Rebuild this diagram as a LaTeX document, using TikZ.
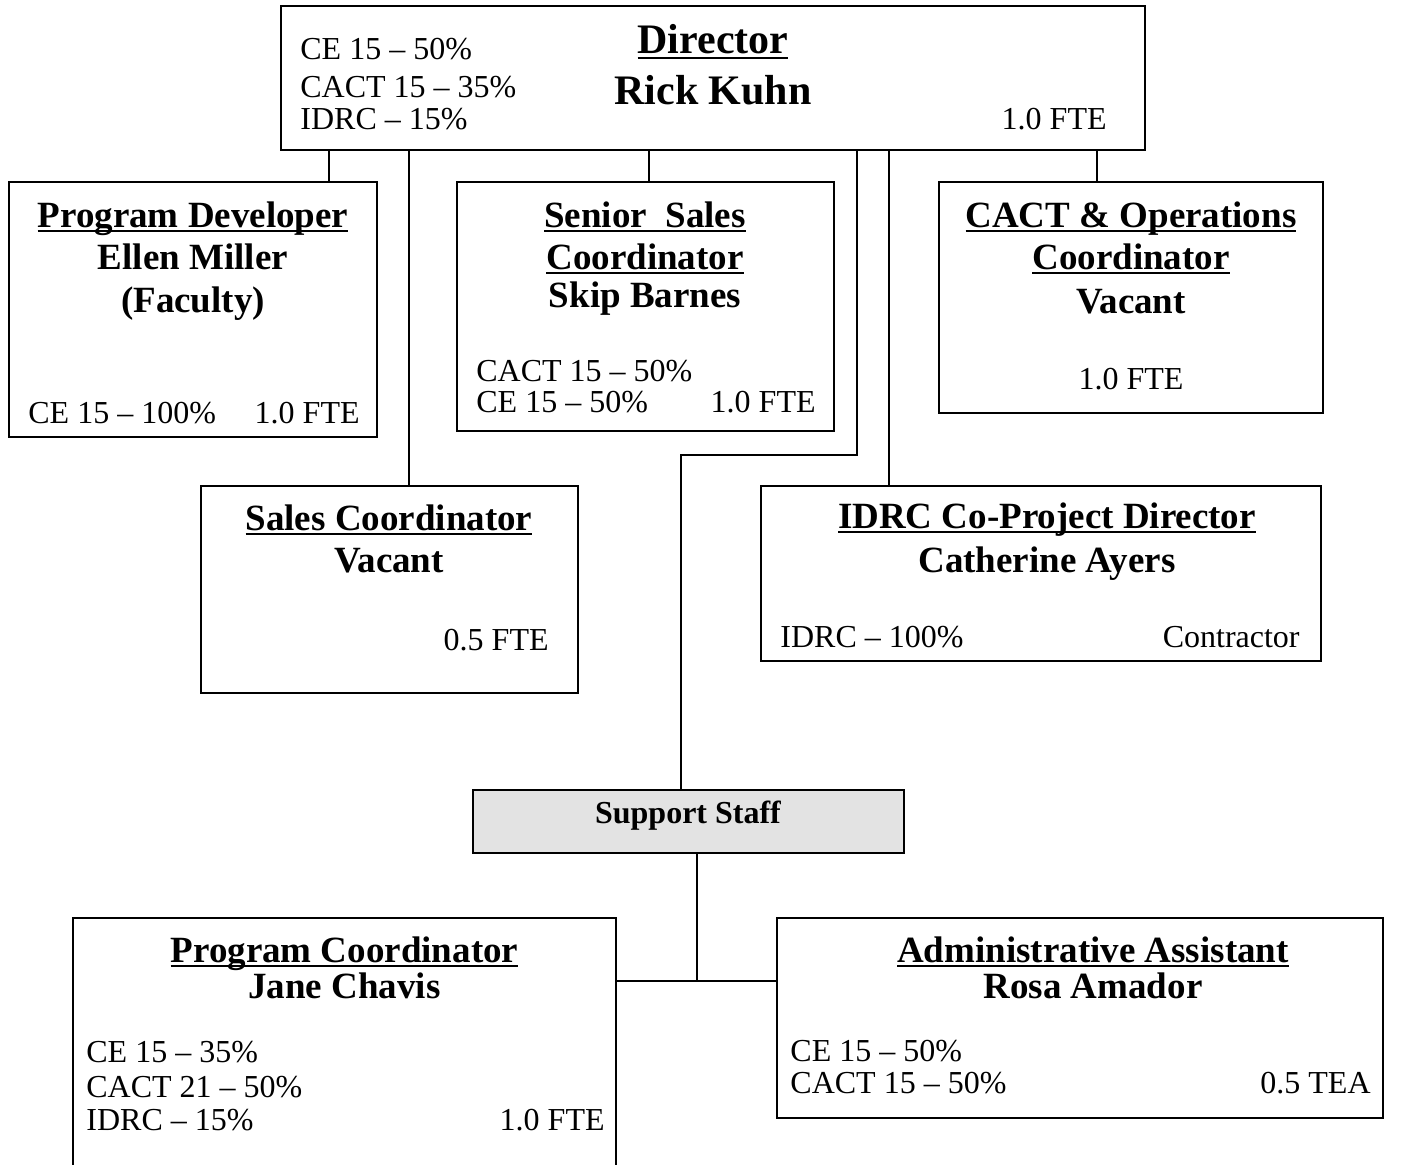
\documentclass[tikz,border=0pt]{standalone}
\usepackage{fontspec}
\setmainfont{Liberation Serif}
\usetikzlibrary{fit}
\newsavebox\ulbox
\newcommand\myul[2]{\sbox\ulbox{#2}\rlap{\rule[#1]{\wd\ulbox}{1pt}}\usebox\ulbox}
\definecolor{supfill}{RGB}{227,227,227}
\tikzset{
  box/.style={draw, line width=1pt, inner sep=0pt},
  conn/.style={draw, line width=1pt},
  txt/.style={inner sep=0pt, font=\fontsize{16}{19}\selectfont},
  ttl/.style={inner sep=0pt, anchor=base, font=\fontsize{18.5}{22}\selectfont\bfseries},
  dirttl/.style={inner sep=0pt, anchor=base, font=\fontsize{21}{25}\selectfont\bfseries},
}
\begin{document}
\begin{tikzpicture}[x=0.5pt,y=-0.5pt]
\useasboundingbox (0,0) rectangle (1415,1164);
\clip (0,0) rectangle (1415,1164);
% boxes
\node[box, fit={(281,6) (1145,150)}] (dir) {};
\node[box, fit={(9,182) (377,437)}] (pd) {};
\node[box, fit={(457,182) (834,431)}] (ssc) {};
\node[box, fit={(939,182) (1323,413)}] (cact) {};
\node[box, fit={(201,486) (578,693)}] (sc) {};
\node[box, fit={(761,486) (1321,661)}] (idrc) {};
\node[box, fill=supfill, fit={(473,790) (904,853)}] (sup) {};
\node[box, fit={(73,918) (616,1190)}] (pc) {};
\node[box, fit={(777,918) (1383,1118)}] (aa) {};
% connectors
\coordinate (b1) at (857,455);
\coordinate (b2) at (681,455);
\coordinate (j) at (697,981);
\draw[conn] (329,0 |- dir.south) -- (329,0 |- pd.north);
\draw[conn] (409,0 |- dir.south) -- (409,0 |- sc.north);
\draw[conn] (649,0 |- dir.south) -- (649,0 |- ssc.north);
\draw[conn] (857,0 |- dir.south) -- (b1) -- (b2) -- (681,0 |- sup.north);
\draw[conn] (889,0 |- dir.south) -- (889,0 |- idrc.north);
\draw[conn] (1097,0 |- dir.south) -- (1097,0 |- cact.north);
\draw[conn] (697,0 |- sup.south) -- (j);
\draw[conn] (pc.east |- j) -- (aa.west |- j);
% Director
\node[dirttl] (dirt1) at (713,53) {\myul{-3pt}{Director}};
\node[dirttl] (dirt2) at (713,104) {Rick Kuhn};
\node[txt, anchor=base west] (dira) at (300,59) {CE 15 – 50\%};
\node[txt, anchor=base west] (dirb) at (300,97) {CACT 15 – 35\%};
\node[txt, anchor=base west] (dirc) at (300,129) {IDRC – 15\%};
\node[txt, anchor=base east] (dird) at (1107,129) {1.0 FTE};
% Program Developer
\node[ttl] (pdt1) at (193,227) {\myul{-2.5pt}{Program Developer}};
\node[ttl] (pdt2) at (193,269) {Ellen Miller};
\node[ttl] (pdt3) at (193,312) {(Faculty)};
\node[txt, anchor=base west] (pda) at (28,423) {CE 15 – 100\%};
\node[txt, anchor=base east] (pdb) at (360,423) {1.0 FTE};
% Senior Sales Coordinator
\node[ttl] (ssct1) at (645,227) {\myul{-2.5pt}{Senior\ \ Sales}};
\node[ttl] (ssct2) at (645,269) {\myul{-2.5pt}{Coordinator}};
\node[ttl] (ssct3) at (645,307) {Skip Barnes};
\node[txt, anchor=base west] (ssca) at (476,381) {CACT 15 – 50\%};
\node[txt, anchor=base west] (sscb) at (476,412) {CE 15 – 50\%};
\node[txt, anchor=base east] (sscc) at (816,412) {1.0 FTE};
% CACT & Operations Coordinator
\node[ttl] (cactt1) at (1131,227) {\myul{-2.5pt}{CACT \& Operations}};
\node[ttl] (cactt2) at (1131,269) {\myul{-2.5pt}{Coordinator}};
\node[ttl] (cactt3) at (1131,313) {Vacant};
\node[txt, anchor=base] (cacta) at (1131,389) {1.0 FTE};
% Sales Coordinator
\node[ttl] (sct1) at (389,530) {\myul{-2.5pt}{Sales Coordinator}};
\node[ttl] (sct2) at (389,572) {Vacant};
\node[txt, anchor=base east] (sca) at (549,650) {0.5 FTE};
% IDRC
\node[ttl] (idrct1) at (1047,528) {\myul{-2.5pt}{IDRC Co-Project Director}};
\node[ttl] (idrct2) at (1047,572) {Catherine Ayers};
\node[txt, anchor=base west] (idrca) at (780,647) {IDRC – 100\%};
\node[txt, anchor=base east] (idrcb) at (1300,647) {Contractor};
% Support Staff
\node[txt, anchor=base, font=\fontsize{16}{19}\selectfont\bfseries] (supt) at (688,823) {Support Staff};
% Program Coordinator
\node[ttl] (pct1) at (344.5,962) {\myul{-2.5pt}{Program Coordinator}};
\node[ttl] (pct2) at (344.5,998) {Jane Chavis};
\node[txt, anchor=base west] (pca) at (86,1062) {CE 15 – 35\%};
\node[txt, anchor=base west] (pcb) at (86,1097) {CACT 21 – 50\%};
\node[txt, anchor=base west] (pcc) at (86,1130) {IDRC – 15\%};
\node[txt, anchor=base east] (pcd) at (605,1130) {1.0 FTE};
% Administrative Assistant
\node[ttl] (aat1) at (1093,962) {\myul{-2.5pt}{Administrative Assistant}};
\node[ttl] (aat2) at (1093,998) {Rosa Amador};
\node[txt, anchor=base west] (aaa) at (790,1061) {CE 15 – 50\%};
\node[txt, anchor=base west] (aab) at (790,1093) {CACT 15 – 50\%};
\node[txt, anchor=base east] (aac) at (1371,1093) {0.5 TEA};
\end{tikzpicture}
\end{document}
